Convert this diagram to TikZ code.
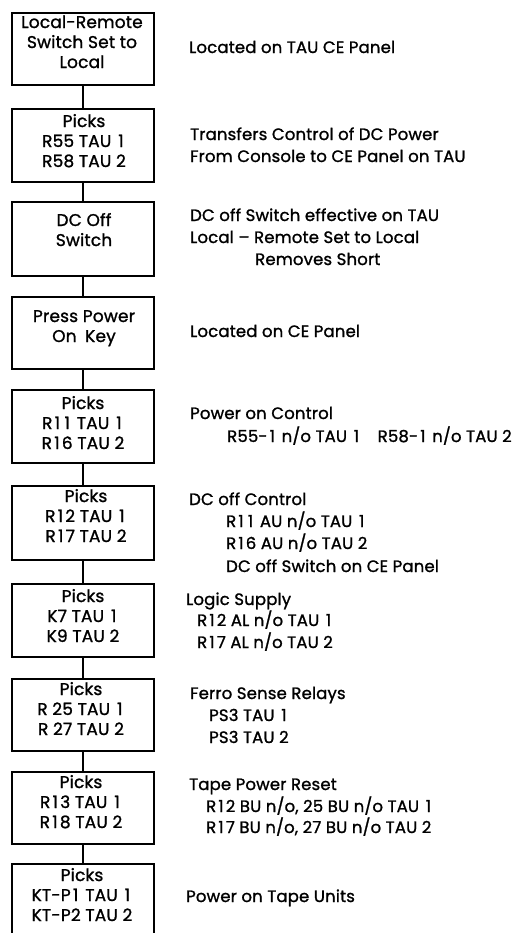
\documentclass[tikz,border=0pt]{standalone}
\usepackage{fontspec}
\setmainfont{Poppins}[LetterSpace=1,FakeBold=1.2]
\newcommand\wone{\makebox[0.58em]{1}}
\begin{document}
\begin{tikzpicture}[x=1bp,y=-1bp,
  box/.style={draw=black,line width=2bp,minimum width=142bp,anchor=north west,inner sep=0pt},
  conn/.style={draw=black,line width=2.2bp},
  boxtext/.style={anchor=base,align=center,inner sep=0pt,font=\fontsize{17bp}{20bp}\selectfont},
  note/.style={anchor=base west,inner sep=0pt,font=\fontsize{16.5bp}{20bp}\selectfont}]
\useasboundingbox[fill=white] (0,0) rectangle (529,933);
% boxes
\node[box,minimum height=72bp] (b1) at (11,12) {};
\node[box,minimum height=73bp] (b2) at (11,108) {};
\node[box,minimum height=74bp] (b3) at (11,201) {};
\node[box,minimum height=72bp] (b4) at (11,296) {};
\node[box,minimum height=73bp] (b5) at (11,389) {};
\node[box,minimum height=74bp] (b6) at (11,485) {};
\node[box,minimum height=73bp] (b7) at (11,583) {};
\node[box,minimum height=72bp] (b8) at (11,678) {};
\node[box,minimum height=72bp] (b9) at (11,771) {};
\node[box,minimum height=80bp] (b10) at (11,863) {};
% connectors
\draw[conn] (b1.south) -- (b2.north);
\draw[conn] (b2.south) -- (b3.north);
\draw[conn] (b3.south) -- (b4.north);
\draw[conn] (b4.south) -- (b5.north);
\draw[conn] (b5.south) -- (b6.north);
\draw[conn] (b6.south) -- (b7.north);
\draw[conn] (b7.south) -- (b8.north);
\draw[conn] (b8.south) -- (b9.north);
\draw[conn] (b9.south) -- (b10.north);
% box texts (anchor = baseline of last line)
\node[boxtext] (t1) at (82,68) {Local-Remote\\Switch Set to\\Local};
\node[boxtext] (t2) at (84,167) {Picks\\R55 TAU \wone\\R58 TAU 2};
\node[boxtext] (t3) at (84,246) {DC Off\\Switch};
\node[boxtext] (t4) at (84,342) {Press Power\\On\enspace Key};
\node[boxtext] (t5) at (83,449) {Picks\\R\wone\wone\ TAU \wone\\R\wone6 TAU 2};
\node[boxtext] (t6) at (86,542) {Picks\\R\wone2 TAU \wone\\R\wone7 TAU 2};
\node[boxtext] (t7) at (83,642) {Picks\\K7 TAU \wone\\K9 TAU 2};
\node[boxtext] (t8) at (81,735) {Picks\\R 25 TAU \wone\\R 27 TAU 2};
\node[boxtext] (t9) at (81,828) {Picks\\R\wone3 TAU \wone\\R\wone8 TAU 2};
\node[boxtext] (t10) at (82,921) {Picks\\KT-P\wone\ TAU \wone\\KT-P2 TAU 2};
% notes
\node[note] (n1) at (189,53) {Located on TAU CE Panel};
\node[note] (n2a) at (190,140) {Transfers Control of DC Power};
\node[note] (n2b) at (190,162) {From Console to CE Panel on TAU};
\node[note] (n3a) at (190,221) {DC off Switch effective on TAU};
\node[note] (n3b) at (190,243) {Local -- Remote Set to Local};
\node[note] (n3c) at (255,265) {Removes Short};
\node[note] (n4) at (190,337) {Located on CE Panel};
\node[note] (n5a) at (190,419) {Power on Control};
\node[note] (n5b) at (227,442) {R55-\wone\ n/o TAU \wone\quad R58-\wone\ n/o TAU 2};
\node[note] (n6a) at (189,505) {DC off Control};
\node[note] (n6b) at (226,527) {R\wone\wone\ AU n/o TAU \wone};
\node[note] (n6c) at (226,549) {R\wone6 AU n/o TAU 2};
\node[note] (n6d) at (226,572) {DC off Switch on CE Panel};
\node[note] (n7a) at (186,605) {Logic Supply};
\node[note] (n7b) at (197,626) {R\wone2 AL n/o TAU \wone};
\node[note] (n7c) at (197,648) {R\wone7 AL n/o TAU 2};
\node[note] (n8a) at (190,699) {Ferro Sense Relays};
\node[note] (n8b) at (209,721) {PS3 TAU \wone};
\node[note] (n8c) at (209,743) {PS3 TAU 2};
\node[note] (n9a) at (189,790) {Tape Power Reset};
\node[note] (n9b) at (206,812) {R\wone2 BU n/o, 25 BU n/o TAU \wone};
\node[note] (n9c) at (206,833) {R\wone7 BU n/o, 27 BU n/o TAU 2};
\node[note] (n10) at (186,902) {Power on Tape Units};
\end{tikzpicture}
\end{document}
